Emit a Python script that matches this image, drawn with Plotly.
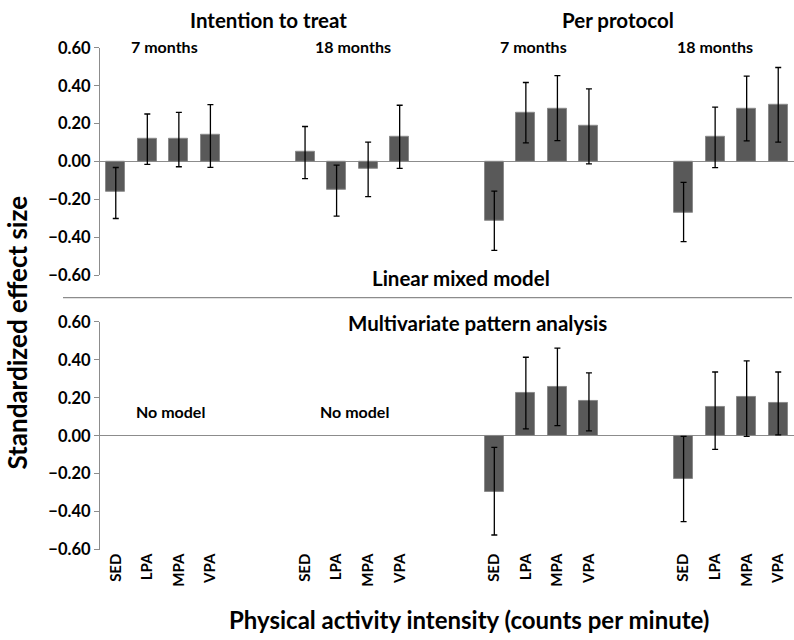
import plotly.graph_objects as go

intensities = ["SED", "LPA", "MPA", "VPA"]
groups = ["ITT 7 months", "ITT 18 months", "PP 7 months", "PP 18 months"]

# Linear mixed model (top panel): estimates and CI bounds, group by group
lmm_est = [-0.16, 0.12, 0.12, 0.14,
           0.05, -0.15, -0.04, 0.13,
           -0.31, 0.26, 0.28, 0.19,
           -0.27, 0.13, 0.28, 0.30]
lmm_lo = [-0.30, -0.015, -0.027, -0.03,
          -0.09, -0.287, -0.185, -0.036,
          -0.468, 0.099, 0.111, -0.012,
          -0.422, -0.032, 0.109, 0.103]
lmm_hi = [-0.031, 0.251, 0.26, 0.30,
          0.185, -0.019, 0.103, 0.297,
          -0.156, 0.417, 0.453, 0.383,
          -0.109, 0.287, 0.451, 0.496]

# Multivariate pattern analysis (bottom panel): only per-protocol groups
mpa_groups = ["PP 7 months", "PP 18 months"]
mpa_est = [-0.295, 0.227, 0.257, 0.182,
           -0.228, 0.153, 0.205, 0.172]
mpa_lo = [-0.523, 0.036, 0.053, 0.026,
          -0.453, -0.072, -0.003, 0.005]
mpa_hi = [-0.061, 0.414, 0.462, 0.332,
          -0.003, 0.336, 0.395, 0.336]

yticks = [0.6, 0.4, 0.2, 0.0, -0.2, -0.4, -0.6]

FONT = "Lato"
GAP = 2  # empty slots between groups
step = len(intensities) + GAP

def xpos(group_idx, i):
    return group_idx * step + i

lmm_x = [xpos(g, i) for g in range(len(groups)) for i in range(len(intensities))]
mpa_x = [xpos(groups.index(gname), i) for gname in mpa_groups for i in range(len(intensities))]

fig = go.Figure()

def add_bars(x, est, lo, hi, xa, ya):
    fig.add_trace(go.Bar(
        x=x, y=est, xaxis=xa, yaxis=ya, width=0.6,
        marker=dict(color="#595959", line=dict(color="#8a8a8a", width=1)),
        error_y=dict(type="data", symmetric=False,
                     array=[h - e for h, e in zip(hi, est)],
                     arrayminus=[e - l for e, l in zip(est, lo)],
                     color="black", thickness=1.3, width=3),
        showlegend=False, hoverinfo="skip"))

add_bars(lmm_x, lmm_est, lmm_lo, lmm_hi, "x", "y")
add_bars(mpa_x, mpa_est, mpa_lo, mpa_hi, "x2", "y2")

all_ticks = [xpos(g, i) for g in range(len(groups)) for i in range(len(intensities))]
all_text = [intensities[i] for g in range(len(groups)) for i in range(len(intensities))]
xmax = len(groups) * step - GAP - 0.5

xdom = [100 / 794, 1.0]
common_x = dict(range=[-0.5, xmax], domain=xdom, showline=False, showgrid=False,
                zeroline=False, ticks="", fixedrange=True)
fig.update_layout(
    xaxis=dict(**common_x, anchor="y", showticklabels=False),
    xaxis2=dict(**common_x, anchor="y2", tickmode="array", tickvals=all_ticks,
                ticktext=all_text, tickangle=-90,
                tickfont=dict(family=FONT, size=15, color="black", weight="bold")),
)
common_y = dict(range=[-0.6, 0.6], tickmode="array", tickvals=yticks, tickformat=".2f",
                showline=True, linecolor="#8c8c8c", linewidth=1.3, ticks="outside",
                ticklen=5, tickcolor="#8c8c8c", showgrid=False,
                zeroline=True, zerolinecolor="#8c8c8c", zerolinewidth=1.3,
                tickfont=dict(family=FONT, size=16.5, color="black", weight="bold"))
fig.update_layout(
    yaxis=dict(**common_y, domain=[(640 - 274) / 640, (640 - 39) / 640], anchor="x"),
    yaxis2=dict(**common_y, domain=[(640 - 557) / 640, (640 - 322) / 640], anchor="x2"),
)

def ann(text, x, y, size):
    return dict(text=text, x=x / 794, y=1 - y / 640, xref="paper", yref="paper",
                showarrow=False, xanchor="center", yanchor="middle",
                font=dict(family=FONT, size=size, color="black", weight="bold"))

annotations = [
    ann("Intention to treat", 268, 10, 20.5),
    ann("Per protocol", 618, 10, 20.5),
    ann("7 months", 164, 38, 16),
    ann("18 months", 353, 38, 16),
    ann("7 months", 533, 38, 16),
    ann("18 months", 715, 38, 16),
    ann("Linear mixed model", 461, 277, 20.5),
    ann("Multivariate pattern analysis", 477, 323, 20.5),
    ann("No model", 170, 414, 16),
    ann("No model", 354, 414, 16),
    ann("Physical activity intensity (counts per minute)", 469, 629, 24),
]
annotations.append(dict(text="Standardized effect size", x=0, y=1 - 333 / 640,
                        xref="paper", yref="paper", showarrow=False, textangle=-90,
                        xanchor="left", yanchor="middle", borderpad=0,
                        font=dict(family=FONT, size=26, color="black", weight="bold")))

fig.update_layout(
    width=794, height=640, margin=dict(l=0, r=0, t=0, b=0),
    paper_bgcolor="white", plot_bgcolor="white", bargap=0,
    annotations=annotations,
    shapes=[dict(type="line", xref="paper", yref="paper", x0=63 / 794, x1=792 / 794,
                 y0=1 - 297 / 640, y1=1 - 297 / 640,
                 line=dict(color="#8c8c8c", width=1.3))],
)

fig.write_html("out.html")
